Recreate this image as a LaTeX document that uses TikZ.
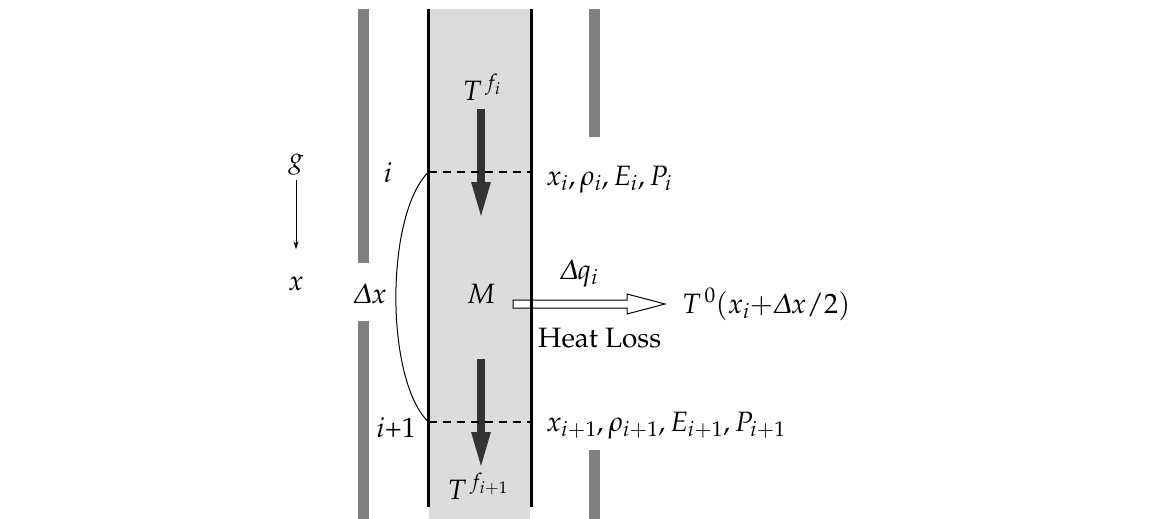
\documentclass[tikz,border=0pt]{standalone}
\usepackage[T1]{fontenc}
\usepackage[slantedGreek]{mathpazo}
\usetikzlibrary{arrows.meta}
\definecolor{wallgray}{HTML}{808080}
\definecolor{fluidgray}{HTML}{DCDCDC}
\definecolor{flowdark}{HTML}{333333}
\tikzset{
  lbl/.style={inner sep=0pt, font=\fontsize{28}{32}\selectfont, anchor=base},
  txt/.style={inner sep=0pt, font=\fontsize{28}{32}\selectfont, anchor=base west},
  wall/.style={fill=wallgray},
  flow/.style={draw=flowdark, line width=8pt, -{Triangle[length=38pt,width=17pt]}},
  pipe/.style={line width=3pt},
  level/.style={line width=2pt, dash pattern=on 8pt off 6pt},
  thin/.style={line width=1pt},
}
\begin{document}
\begin{tikzpicture}[x=1pt,y=-1pt]
\useasboundingbox (0,0) rectangle (1149,519);
% fluid column
\fill[fluidgray] (429,9) rectangle (530,519);
% outer walls
\fill[wall] (358,9) rectangle (369,263);
\fill[wall] (358,321) rectangle (369,519);
\fill[wall] (589,9) rectangle (600,137);
\fill[wall] (589,450) rectangle (600,519);
% flow arrows
\draw[flow] (481,109) -- (481,220);
\draw[flow] (481,359) -- (481,470);
% heat loss arrow
\draw[fill=white, line width=1pt] (513,300) -- (627,300) -- (627,294) -- (665,304) -- (627,314) -- (627,308) -- (513,308) -- cycle;
% pipe walls
\draw[pipe] (428.5,9) -- (428.5,507);
\draw[pipe] (531,9) -- (531,507);
% levels
\coordinate (iL) at (428.5,172);
\coordinate (iR) at (531,172);
\coordinate (jL) at (428.5,422);
\coordinate (jR) at (531,422);
\draw[level] (iL) -- (iR);
\draw[level] (jL) -- (jR);
\draw[thin] (iL) .. controls (385,215) and (385,380) .. (jL);
% labels
\node[lbl] (g) at (296,167) {$g$};
\node[lbl] (xl) at (296,290) {$x$};
\draw[line width=0.8pt, -{Stealth[length=8pt,width=5pt]}, shorten <=5pt, shorten >=27pt] (g.south) -- (xl.north);
\node[lbl] (il) at (388,182) {$i$};
\node[lbl] (dx) at (370,303) {$\Delta x$};
\node[lbl] (M) at (481,303) {$M$};
\node[lbl, anchor=base east] (jl) at (416,437) {$i$+1};
\node[lbl] (Tfi) at (482,100) {$T^{\,f_i}$};
\node[lbl] (Tfj) at (478,499) {$T^{\,f_{i+1}}$};
\node[lbl, anchor=base west] (si) at (546,185) {$x_i, \rho_i, E_i, P_i$};
\node[lbl, anchor=base west] (sj) at (546,431) {$x_{i+1}, \rho_{i+1}, E_{i+1}, P_{i+1}$};
\node[lbl] (dq) at (579,279) {$\Delta q_i$};
\node[lbl, anchor=base west] (T0) at (682,313) {$T^{\,0}(x_i{+}\Delta x/2)$};
\node[txt] (hl) at (538,347) {Heat Loss};
\end{tikzpicture}
\end{document}
